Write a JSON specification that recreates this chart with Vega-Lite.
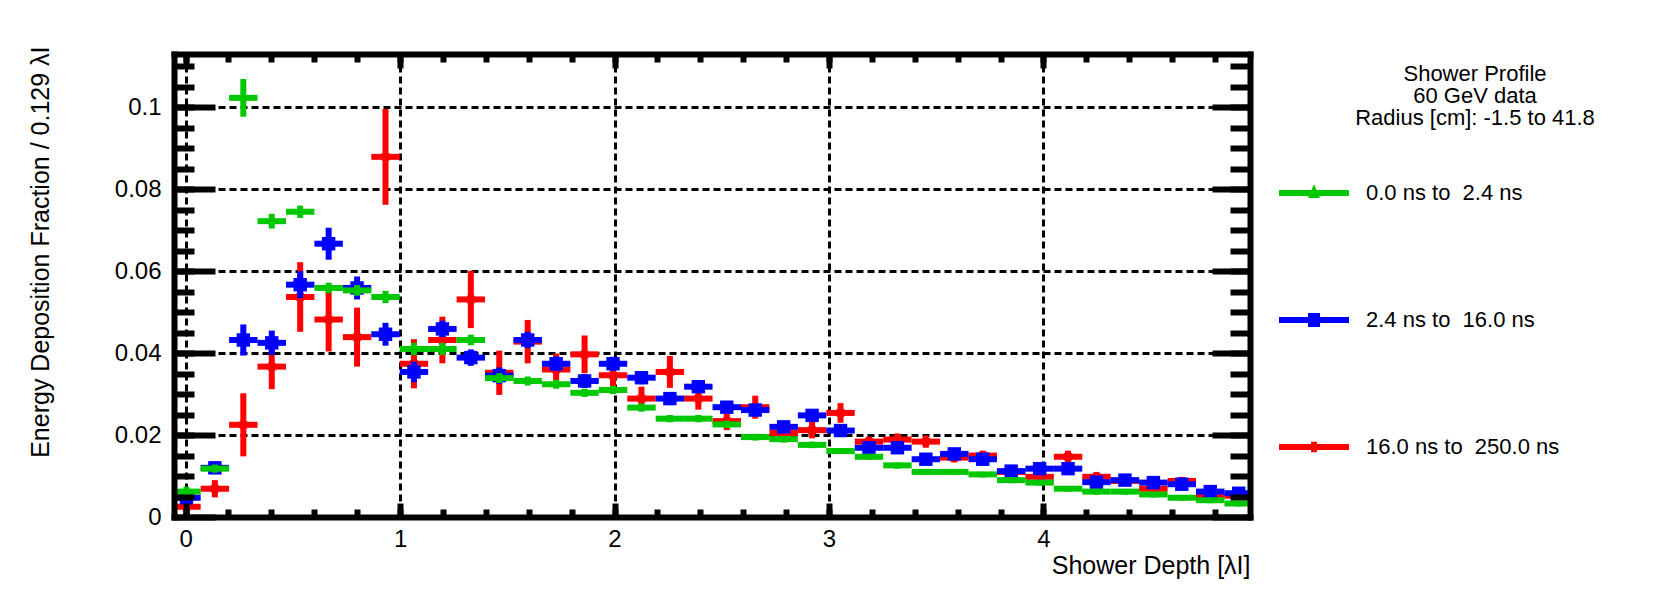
{
"$schema": "https://vega.github.io/schema/vega-lite/v6.json",
"width": 1076, "height": 463,
"autosize": {"type": "none"},
"padding": {"left": 174, "top": 54, "right": 411, "bottom": 76},
"background": "white",
"title": {"text": ["Shower Profile", "60 GeV data", "Radius [cm]: -1.5 to 41.8"], "anchor": "start", "frame": "group", "align": "center", "baseline": "top", "dx": 1301, "dy": 84, "offset": 0, "fontSize": 22, "fontWeight": "normal", "font": "Liberation Sans", "color": "black", "lineHeight": 22},
"config": {"font": "Liberation Sans", "view": {"stroke": null}, "axis": {"labelOverlap": false, "labelFlush": false}},
"data": {"values": [
{"s":"0.0 ns to\u00a0 2.4 ns","x":0.004,"xlo":-0.0623,"xhi":0.0703,"y":0.0062,"ylo":0.0050,"yhi":0.0074},
{"s":"0.0 ns to\u00a0 2.4 ns","x":0.1366,"xlo":0.0703,"xhi":0.2029,"y":0.0118,"ylo":0.0108,"yhi":0.0128},
{"s":"0.0 ns to\u00a0 2.4 ns","x":0.2692,"xlo":0.2029,"xhi":0.3355,"y":0.1023,"ylo":0.0977,"yhi":0.1069},
{"s":"0.0 ns to\u00a0 2.4 ns","x":0.4018,"xlo":0.3355,"xhi":0.4681,"y":0.0722,"ylo":0.0704,"yhi":0.0740},
{"s":"0.0 ns to\u00a0 2.4 ns","x":0.5344,"xlo":0.4681,"xhi":0.6007,"y":0.0745,"ylo":0.0730,"yhi":0.0760},
{"s":"0.0 ns to\u00a0 2.4 ns","x":0.667,"xlo":0.6007,"xhi":0.7333,"y":0.0559,"ylo":0.0546,"yhi":0.0572},
{"s":"0.0 ns to\u00a0 2.4 ns","x":0.7996,"xlo":0.7333,"xhi":0.8659,"y":0.0553,"ylo":0.0540,"yhi":0.0566},
{"s":"0.0 ns to\u00a0 2.4 ns","x":0.9322,"xlo":0.8659,"xhi":0.9985,"y":0.0537,"ylo":0.0522,"yhi":0.0552},
{"s":"0.0 ns to\u00a0 2.4 ns","x":1.0648,"xlo":0.9985,"xhi":1.1311,"y":0.0410,"ylo":0.0395,"yhi":0.0425},
{"s":"0.0 ns to\u00a0 2.4 ns","x":1.1974,"xlo":1.1311,"xhi":1.2637,"y":0.0410,"ylo":0.0395,"yhi":0.0425},
{"s":"0.0 ns to\u00a0 2.4 ns","x":1.33,"xlo":1.2637,"xhi":1.3963,"y":0.0432,"ylo":0.0419,"yhi":0.0445},
{"s":"0.0 ns to\u00a0 2.4 ns","x":1.4626,"xlo":1.3963,"xhi":1.5289,"y":0.0339,"ylo":0.0327,"yhi":0.0351},
{"s":"0.0 ns to\u00a0 2.4 ns","x":1.5952,"xlo":1.5289,"xhi":1.6615,"y":0.0332,"ylo":0.0321,"yhi":0.0343},
{"s":"0.0 ns to\u00a0 2.4 ns","x":1.7278,"xlo":1.6615,"xhi":1.7941,"y":0.0324,"ylo":0.0313,"yhi":0.0335},
{"s":"0.0 ns to\u00a0 2.4 ns","x":1.8604,"xlo":1.7941,"xhi":1.9267,"y":0.0303,"ylo":0.0293,"yhi":0.0313},
{"s":"0.0 ns to\u00a0 2.4 ns","x":1.993,"xlo":1.9267,"xhi":2.0593,"y":0.0310,"ylo":0.0300,"yhi":0.0320},
{"s":"0.0 ns to\u00a0 2.4 ns","x":2.1256,"xlo":2.0593,"xhi":2.1919,"y":0.0267,"ylo":0.0257,"yhi":0.0277},
{"s":"0.0 ns to\u00a0 2.4 ns","x":2.2582,"xlo":2.1919,"xhi":2.3245,"y":0.0240,"ylo":0.0231,"yhi":0.0249},
{"s":"0.0 ns to\u00a0 2.4 ns","x":2.3908,"xlo":2.3245,"xhi":2.4571,"y":0.0240,"ylo":0.0231,"yhi":0.0249},
{"s":"0.0 ns to\u00a0 2.4 ns","x":2.5234,"xlo":2.4571,"xhi":2.5897,"y":0.0226,"ylo":0.0217,"yhi":0.0235},
{"s":"0.0 ns to\u00a0 2.4 ns","x":2.656,"xlo":2.5897,"xhi":2.7223,"y":0.0195,"ylo":0.0187,"yhi":0.0203},
{"s":"0.0 ns to\u00a0 2.4 ns","x":2.7886,"xlo":2.7223,"xhi":2.8549,"y":0.0190,"ylo":0.0182,"yhi":0.0198},
{"s":"0.0 ns to\u00a0 2.4 ns","x":2.9212,"xlo":2.8549,"xhi":2.9875,"y":0.0176,"ylo":0.0168,"yhi":0.0184},
{"s":"0.0 ns to\u00a0 2.4 ns","x":3.0538,"xlo":2.9875,"xhi":3.1201,"y":0.0161,"ylo":0.0154,"yhi":0.0168},
{"s":"0.0 ns to\u00a0 2.4 ns","x":3.1864,"xlo":3.1201,"xhi":3.2527,"y":0.0147,"ylo":0.0140,"yhi":0.0154},
{"s":"0.0 ns to\u00a0 2.4 ns","x":3.319,"xlo":3.2527,"xhi":3.3853,"y":0.0126,"ylo":0.0119,"yhi":0.0133},
{"s":"0.0 ns to\u00a0 2.4 ns","x":3.4516,"xlo":3.3853,"xhi":3.5179,"y":0.0110,"ylo":0.0104,"yhi":0.0116},
{"s":"0.0 ns to\u00a0 2.4 ns","x":3.5842,"xlo":3.5179,"xhi":3.6505,"y":0.0110,"ylo":0.0104,"yhi":0.0116},
{"s":"0.0 ns to\u00a0 2.4 ns","x":3.7168,"xlo":3.6505,"xhi":3.7831,"y":0.0104,"ylo":0.0098,"yhi":0.0110},
{"s":"0.0 ns to\u00a0 2.4 ns","x":3.8494,"xlo":3.7831,"xhi":3.9157,"y":0.0090,"ylo":0.0084,"yhi":0.0096},
{"s":"0.0 ns to\u00a0 2.4 ns","x":3.982,"xlo":3.9157,"xhi":4.0483,"y":0.0084,"ylo":0.0079,"yhi":0.0089},
{"s":"0.0 ns to\u00a0 2.4 ns","x":4.1146,"xlo":4.0483,"xhi":4.1809,"y":0.0069,"ylo":0.0064,"yhi":0.0074},
{"s":"0.0 ns to\u00a0 2.4 ns","x":4.2472,"xlo":4.1809,"xhi":4.3135,"y":0.0062,"ylo":0.0057,"yhi":0.0067},
{"s":"0.0 ns to\u00a0 2.4 ns","x":4.3798,"xlo":4.3135,"xhi":4.4461,"y":0.0062,"ylo":0.0057,"yhi":0.0067},
{"s":"0.0 ns to\u00a0 2.4 ns","x":4.5124,"xlo":4.4461,"xhi":4.5787,"y":0.0055,"ylo":0.0050,"yhi":0.0060},
{"s":"0.0 ns to\u00a0 2.4 ns","x":4.645,"xlo":4.5787,"xhi":4.7113,"y":0.0047,"ylo":0.0043,"yhi":0.0051},
{"s":"0.0 ns to\u00a0 2.4 ns","x":4.7776,"xlo":4.7113,"xhi":4.8439,"y":0.0041,"ylo":0.0037,"yhi":0.0045},
{"s":"0.0 ns to\u00a0 2.4 ns","x":4.9102,"xlo":4.8439,"xhi":4.9765,"y":0.0033,"ylo":0.0029,"yhi":0.0037},
{"s":"2.4 ns to\u00a0 16.0 ns","x":0.004,"xlo":-0.0623,"xhi":0.0703,"y":0.0047,"ylo":0.0032,"yhi":0.0062},
{"s":"2.4 ns to\u00a0 16.0 ns","x":0.1366,"xlo":0.0703,"xhi":0.2029,"y":0.0120,"ylo":0.0105,"yhi":0.0135},
{"s":"2.4 ns to\u00a0 16.0 ns","x":0.2692,"xlo":0.2029,"xhi":0.3355,"y":0.0432,"ylo":0.0394,"yhi":0.0470},
{"s":"2.4 ns to\u00a0 16.0 ns","x":0.4018,"xlo":0.3355,"xhi":0.4681,"y":0.0425,"ylo":0.0395,"yhi":0.0455},
{"s":"2.4 ns to\u00a0 16.0 ns","x":0.5344,"xlo":0.4681,"xhi":0.6007,"y":0.0567,"ylo":0.0534,"yhi":0.0600},
{"s":"2.4 ns to\u00a0 16.0 ns","x":0.667,"xlo":0.6007,"xhi":0.7333,"y":0.0667,"ylo":0.0628,"yhi":0.0706},
{"s":"2.4 ns to\u00a0 16.0 ns","x":0.7996,"xlo":0.7333,"xhi":0.8659,"y":0.0559,"ylo":0.0531,"yhi":0.0587},
{"s":"2.4 ns to\u00a0 16.0 ns","x":0.9322,"xlo":0.8659,"xhi":0.9985,"y":0.0446,"ylo":0.0418,"yhi":0.0474},
{"s":"2.4 ns to\u00a0 16.0 ns","x":1.0648,"xlo":0.9985,"xhi":1.1311,"y":0.0354,"ylo":0.0329,"yhi":0.0379},
{"s":"2.4 ns to\u00a0 16.0 ns","x":1.1974,"xlo":1.1311,"xhi":1.2637,"y":0.0459,"ylo":0.0439,"yhi":0.0479},
{"s":"2.4 ns to\u00a0 16.0 ns","x":1.33,"xlo":1.2637,"xhi":1.3963,"y":0.0389,"ylo":0.0369,"yhi":0.0409},
{"s":"2.4 ns to\u00a0 16.0 ns","x":1.4626,"xlo":1.3963,"xhi":1.5289,"y":0.0345,"ylo":0.0325,"yhi":0.0365},
{"s":"2.4 ns to\u00a0 16.0 ns","x":1.5952,"xlo":1.5289,"xhi":1.6615,"y":0.0432,"ylo":0.0412,"yhi":0.0452},
{"s":"2.4 ns to\u00a0 16.0 ns","x":1.7278,"xlo":1.6615,"xhi":1.7941,"y":0.0374,"ylo":0.0356,"yhi":0.0392},
{"s":"2.4 ns to\u00a0 16.0 ns","x":1.8604,"xlo":1.7941,"xhi":1.9267,"y":0.0332,"ylo":0.0315,"yhi":0.0349},
{"s":"2.4 ns to\u00a0 16.0 ns","x":1.993,"xlo":1.9267,"xhi":2.0593,"y":0.0374,"ylo":0.0357,"yhi":0.0391},
{"s":"2.4 ns to\u00a0 16.0 ns","x":2.1256,"xlo":2.0593,"xhi":2.1919,"y":0.0340,"ylo":0.0324,"yhi":0.0356},
{"s":"2.4 ns to\u00a0 16.0 ns","x":2.2582,"xlo":2.1919,"xhi":2.3245,"y":0.0289,"ylo":0.0273,"yhi":0.0305},
{"s":"2.4 ns to\u00a0 16.0 ns","x":2.3908,"xlo":2.3245,"xhi":2.4571,"y":0.0318,"ylo":0.0303,"yhi":0.0333},
{"s":"2.4 ns to\u00a0 16.0 ns","x":2.5234,"xlo":2.4571,"xhi":2.5897,"y":0.0268,"ylo":0.0254,"yhi":0.0282},
{"s":"2.4 ns to\u00a0 16.0 ns","x":2.656,"xlo":2.5897,"xhi":2.7223,"y":0.0261,"ylo":0.0247,"yhi":0.0275},
{"s":"2.4 ns to\u00a0 16.0 ns","x":2.7886,"xlo":2.7223,"xhi":2.8549,"y":0.0220,"ylo":0.0207,"yhi":0.0233},
{"s":"2.4 ns to\u00a0 16.0 ns","x":2.9212,"xlo":2.8549,"xhi":2.9875,"y":0.0248,"ylo":0.0235,"yhi":0.0261},
{"s":"2.4 ns to\u00a0 16.0 ns","x":3.0538,"xlo":2.9875,"xhi":3.1201,"y":0.0211,"ylo":0.0199,"yhi":0.0223},
{"s":"2.4 ns to\u00a0 16.0 ns","x":3.1864,"xlo":3.1201,"xhi":3.2527,"y":0.0169,"ylo":0.0158,"yhi":0.0180},
{"s":"2.4 ns to\u00a0 16.0 ns","x":3.319,"xlo":3.2527,"xhi":3.3853,"y":0.0169,"ylo":0.0158,"yhi":0.0180},
{"s":"2.4 ns to\u00a0 16.0 ns","x":3.4516,"xlo":3.3853,"xhi":3.5179,"y":0.0141,"ylo":0.0131,"yhi":0.0151},
{"s":"2.4 ns to\u00a0 16.0 ns","x":3.5842,"xlo":3.5179,"xhi":3.6505,"y":0.0154,"ylo":0.0144,"yhi":0.0164},
{"s":"2.4 ns to\u00a0 16.0 ns","x":3.7168,"xlo":3.6505,"xhi":3.7831,"y":0.0141,"ylo":0.0131,"yhi":0.0151},
{"s":"2.4 ns to\u00a0 16.0 ns","x":3.8494,"xlo":3.7831,"xhi":3.9157,"y":0.0112,"ylo":0.0103,"yhi":0.0121},
{"s":"2.4 ns to\u00a0 16.0 ns","x":3.982,"xlo":3.9157,"xhi":4.0483,"y":0.0118,"ylo":0.0109,"yhi":0.0127},
{"s":"2.4 ns to\u00a0 16.0 ns","x":4.1146,"xlo":4.0483,"xhi":4.1809,"y":0.0118,"ylo":0.0109,"yhi":0.0127},
{"s":"2.4 ns to\u00a0 16.0 ns","x":4.2472,"xlo":4.1809,"xhi":4.3135,"y":0.0085,"ylo":0.0077,"yhi":0.0093},
{"s":"2.4 ns to\u00a0 16.0 ns","x":4.3798,"xlo":4.3135,"xhi":4.4461,"y":0.0090,"ylo":0.0082,"yhi":0.0098},
{"s":"2.4 ns to\u00a0 16.0 ns","x":4.5124,"xlo":4.4461,"xhi":4.5787,"y":0.0084,"ylo":0.0076,"yhi":0.0092},
{"s":"2.4 ns to\u00a0 16.0 ns","x":4.645,"xlo":4.5787,"xhi":4.7113,"y":0.0080,"ylo":0.0072,"yhi":0.0088},
{"s":"2.4 ns to\u00a0 16.0 ns","x":4.7776,"xlo":4.7113,"xhi":4.8439,"y":0.0062,"ylo":0.0055,"yhi":0.0069},
{"s":"2.4 ns to\u00a0 16.0 ns","x":4.9102,"xlo":4.8439,"xhi":4.9765,"y":0.0058,"ylo":0.0051,"yhi":0.0065},
{"s":"16.0 ns to\u00a0 250.0 ns","x":0.004,"xlo":-0.0623,"xhi":0.0703,"y":0.0025,"ylo":0.0005,"yhi":0.0045},
{"s":"16.0 ns to\u00a0 250.0 ns","x":0.1366,"xlo":0.0703,"xhi":0.2029,"y":0.0069,"ylo":0.0048,"yhi":0.0090},
{"s":"16.0 ns to\u00a0 250.0 ns","x":0.2692,"xlo":0.2029,"xhi":0.3355,"y":0.0225,"ylo":0.0148,"yhi":0.0302},
{"s":"16.0 ns to\u00a0 250.0 ns","x":0.4018,"xlo":0.3355,"xhi":0.4681,"y":0.0367,"ylo":0.0312,"yhi":0.0422},
{"s":"16.0 ns to\u00a0 250.0 ns","x":0.5344,"xlo":0.4681,"xhi":0.6007,"y":0.0537,"ylo":0.0452,"yhi":0.0622},
{"s":"16.0 ns to\u00a0 250.0 ns","x":0.667,"xlo":0.6007,"xhi":0.7333,"y":0.0482,"ylo":0.0404,"yhi":0.0560},
{"s":"16.0 ns to\u00a0 250.0 ns","x":0.7996,"xlo":0.7333,"xhi":0.8659,"y":0.0439,"ylo":0.0367,"yhi":0.0511},
{"s":"16.0 ns to\u00a0 250.0 ns","x":0.9322,"xlo":0.8659,"xhi":0.9985,"y":0.0879,"ylo":0.0762,"yhi":0.0996},
{"s":"16.0 ns to\u00a0 250.0 ns","x":1.0648,"xlo":0.9985,"xhi":1.1311,"y":0.0374,"ylo":0.0314,"yhi":0.0434},
{"s":"16.0 ns to\u00a0 250.0 ns","x":1.1974,"xlo":1.1311,"xhi":1.2637,"y":0.0432,"ylo":0.0375,"yhi":0.0489},
{"s":"16.0 ns to\u00a0 250.0 ns","x":1.33,"xlo":1.2637,"xhi":1.3963,"y":0.0531,"ylo":0.0461,"yhi":0.0601},
{"s":"16.0 ns to\u00a0 250.0 ns","x":1.4626,"xlo":1.3963,"xhi":1.5289,"y":0.0352,"ylo":0.0298,"yhi":0.0406},
{"s":"16.0 ns to\u00a0 250.0 ns","x":1.5952,"xlo":1.5289,"xhi":1.6615,"y":0.0428,"ylo":0.0375,"yhi":0.0481},
{"s":"16.0 ns to\u00a0 250.0 ns","x":1.7278,"xlo":1.6615,"xhi":1.7941,"y":0.0360,"ylo":0.0321,"yhi":0.0399},
{"s":"16.0 ns to\u00a0 250.0 ns","x":1.8604,"xlo":1.7941,"xhi":1.9267,"y":0.0397,"ylo":0.0351,"yhi":0.0443},
{"s":"16.0 ns to\u00a0 250.0 ns","x":1.993,"xlo":1.9267,"xhi":2.0593,"y":0.0346,"ylo":0.0316,"yhi":0.0376},
{"s":"16.0 ns to\u00a0 250.0 ns","x":2.1256,"xlo":2.0593,"xhi":2.1919,"y":0.0289,"ylo":0.0260,"yhi":0.0318},
{"s":"16.0 ns to\u00a0 250.0 ns","x":2.2582,"xlo":2.1919,"xhi":2.3245,"y":0.0354,"ylo":0.0315,"yhi":0.0393},
{"s":"16.0 ns to\u00a0 250.0 ns","x":2.3908,"xlo":2.3245,"xhi":2.4571,"y":0.0289,"ylo":0.0262,"yhi":0.0316},
{"s":"16.0 ns to\u00a0 250.0 ns","x":2.5234,"xlo":2.4571,"xhi":2.5897,"y":0.0234,"ylo":0.0212,"yhi":0.0256},
{"s":"16.0 ns to\u00a0 250.0 ns","x":2.656,"xlo":2.5897,"xhi":2.7223,"y":0.0268,"ylo":0.0240,"yhi":0.0296},
{"s":"16.0 ns to\u00a0 250.0 ns","x":2.7886,"xlo":2.7223,"xhi":2.8549,"y":0.0205,"ylo":0.0183,"yhi":0.0227},
{"s":"16.0 ns to\u00a0 250.0 ns","x":2.9212,"xlo":2.8549,"xhi":2.9875,"y":0.0212,"ylo":0.0192,"yhi":0.0232},
{"s":"16.0 ns to\u00a0 250.0 ns","x":3.0538,"xlo":2.9875,"xhi":3.1201,"y":0.0254,"ylo":0.0230,"yhi":0.0278},
{"s":"16.0 ns to\u00a0 250.0 ns","x":3.1864,"xlo":3.1201,"xhi":3.2527,"y":0.0184,"ylo":0.0172,"yhi":0.0196},
{"s":"16.0 ns to\u00a0 250.0 ns","x":3.319,"xlo":3.2527,"xhi":3.3853,"y":0.0189,"ylo":0.0174,"yhi":0.0204},
{"s":"16.0 ns to\u00a0 250.0 ns","x":3.4516,"xlo":3.3853,"xhi":3.5179,"y":0.0184,"ylo":0.0169,"yhi":0.0199},
{"s":"16.0 ns to\u00a0 250.0 ns","x":3.5842,"xlo":3.5179,"xhi":3.6505,"y":0.0145,"ylo":0.0133,"yhi":0.0157},
{"s":"16.0 ns to\u00a0 250.0 ns","x":3.7168,"xlo":3.6505,"xhi":3.7831,"y":0.0150,"ylo":0.0138,"yhi":0.0162},
{"s":"16.0 ns to\u00a0 250.0 ns","x":3.8494,"xlo":3.7831,"xhi":3.9157,"y":0.0110,"ylo":0.0098,"yhi":0.0122},
{"s":"16.0 ns to\u00a0 250.0 ns","x":3.982,"xlo":3.9157,"xhi":4.0483,"y":0.0098,"ylo":0.0088,"yhi":0.0108},
{"s":"16.0 ns to\u00a0 250.0 ns","x":4.1146,"xlo":4.0483,"xhi":4.1809,"y":0.0147,"ylo":0.0132,"yhi":0.0162},
{"s":"16.0 ns to\u00a0 250.0 ns","x":4.2472,"xlo":4.1809,"xhi":4.3135,"y":0.0098,"ylo":0.0086,"yhi":0.0110},
{"s":"16.0 ns to\u00a0 250.0 ns","x":4.3798,"xlo":4.3135,"xhi":4.4461,"y":0.0088,"ylo":0.0078,"yhi":0.0098},
{"s":"16.0 ns to\u00a0 250.0 ns","x":4.5124,"xlo":4.4461,"xhi":4.5787,"y":0.0069,"ylo":0.0059,"yhi":0.0079},
{"s":"16.0 ns to\u00a0 250.0 ns","x":4.645,"xlo":4.5787,"xhi":4.7113,"y":0.0088,"ylo":0.0078,"yhi":0.0098},
{"s":"16.0 ns to\u00a0 250.0 ns","x":4.7776,"xlo":4.7113,"xhi":4.8439,"y":0.0051,"ylo":0.0042,"yhi":0.0060},
{"s":"16.0 ns to\u00a0 250.0 ns","x":4.9102,"xlo":4.8439,"xhi":4.9765,"y":0.0052,"ylo":0.0044,"yhi":0.0060}
]},
"resolve": {"axis": {"x": "independent", "y": "independent"}},
"layer": [
{"transform": [{"filter": {"field": "s", "equal": "16.0 ns to\u00a0 250.0 ns"}}],
 "mark": {"type": "rule", "color": "#ff0000", "strokeWidth": 6, "clip": true},
 "encoding": {
  "x": {"field": "xlo", "type": "quantitative", "scale": {"domain": [-0.054, 4.963], "nice": false, "zero": false},
        "axis": {"orient": "bottom", "values": [0, 1, 2, 3, 4], "format": "d", "ticks": false, "grid": false, "domain": true, "domainColor": "black", "domainWidth": 6, "domainCap": "square", "labelFontSize": 24, "labelColor": "black", "labelPadding": 10, "labelFont": "Liberation Sans", "title": "Shower Depth [λI]", "titleAnchor": "end", "titleFontSize": 25, "titleFontWeight": "normal", "titleColor": "black", "titleFont": "Liberation Sans", "titlePadding": 2, "zindex": 1}},
  "x2": {"field": "xhi"},
  "y": {"field": "y", "type": "quantitative", "scale": {"domain": [0, 0.113], "nice": false, "zero": false},
        "axis": {"orient": "left", "values": [0, 0.02, 0.04, 0.06, 0.08, 0.1], "format": ".2~f", "ticks": false, "grid": false, "domain": true, "domainColor": "black", "domainWidth": 6, "domainCap": "square", "labelFontSize": 24, "labelColor": "black", "labelPadding": 13, "labelFont": "Liberation Sans", "title": "Energy Deposition Fraction / 0.129 λI", "titleAnchor": "end", "titleY": -8, "titleFontSize": 25, "titleFontWeight": "normal", "titleColor": "black", "titleFont": "Liberation Sans", "titlePadding": 61, "zindex": 1}}
 }},
{"transform": [{"filter": {"field": "s", "equal": "16.0 ns to\u00a0 250.0 ns"}}],
 "mark": {"type": "rule", "color": "#ff0000", "strokeWidth": 6, "clip": true},
 "encoding": {
  "x": {"field": "x", "type": "quantitative",
        "axis": {"orient": "bottom", "values": [0, 1, 2, 3, 4], "grid": true, "gridColor": "black", "gridDash": [7, 4], "gridWidth": 3, "gridOpacity": 1, "ticks": false, "labels": false, "domain": false, "title": null, "zindex": 0}},
  "y": {"field": "ylo", "type": "quantitative",
        "axis": {"orient": "left", "values": [0.02, 0.04, 0.06, 0.08, 0.1], "grid": true, "gridColor": "black", "gridDash": [7, 4], "gridWidth": 3, "gridOpacity": 1, "ticks": false, "labels": false, "domain": false, "title": null, "zindex": 0}},
  "y2": {"field": "yhi"}
 }},
{"transform": [{"filter": {"field": "s", "equal": "16.0 ns to\u00a0 250.0 ns"}}],
 "mark": {"type": "point", "shape": "square", "filled": true, "color": "#ff0000", "opacity": 1, "size": 60, "strokeWidth": 0, "clip": true},
 "encoding": {
  "x": {"field": "x", "type": "quantitative",
        "axis": {"orient": "bottom", "values": [0, 1, 2, 3, 4], "ticks": true, "tickSize": -14, "tickWidth": 6, "tickColor": "black", "labels": false, "domain": false, "grid": false, "title": null, "zindex": 1}},
  "y": {"field": "y", "type": "quantitative",
        "axis": {"orient": "left", "values": [0, 0.02, 0.04, 0.06, 0.08, 0.1], "ticks": true, "tickSize": -41, "tickWidth": 6, "tickColor": "black", "labels": false, "domain": false, "grid": false, "title": null, "zindex": 1}}
 }},
{"transform": [{"filter": {"field": "s", "equal": "2.4 ns to\u00a0 16.0 ns"}}],
 "mark": {"type": "rule", "color": "#0000ff", "strokeWidth": 6, "clip": true},
 "encoding": {
  "x": {"field": "xlo", "type": "quantitative",
        "axis": {"orient": "bottom", "values": [0, 0.2, 0.4, 0.6, 0.8, 1, 1.2, 1.4, 1.6, 1.8, 2, 2.2, 2.4, 2.6, 2.8, 3, 3.2, 3.4, 3.6, 3.8, 4, 4.2, 4.4, 4.6, 4.8], "ticks": true, "tickSize": -8, "tickWidth": 6, "tickColor": "black", "labels": false, "domain": false, "grid": false, "title": null, "zindex": 1}},
  "x2": {"field": "xhi"},
  "y": {"field": "y", "type": "quantitative",
        "axis": {"orient": "left", "values": [0.005, 0.01, 0.015, 0.02, 0.025, 0.03, 0.035, 0.04, 0.045, 0.05, 0.055, 0.06, 0.065, 0.07, 0.075, 0.08, 0.085, 0.09, 0.095, 0.1, 0.105, 0.11], "ticks": true, "tickSize": -20, "tickWidth": 6, "tickColor": "black", "labels": false, "domain": false, "grid": false, "title": null, "zindex": 1}}
 }},
{"transform": [{"filter": {"field": "s", "equal": "2.4 ns to\u00a0 16.0 ns"}}],
 "mark": {"type": "rule", "color": "#0000ff", "strokeWidth": 6, "clip": true},
 "encoding": {
  "x": {"field": "x", "type": "quantitative",
        "axis": {"orient": "top", "values": [0, 1, 2, 3, 4], "ticks": true, "tickSize": -14, "tickWidth": 6, "tickColor": "black", "labels": false, "domain": true, "domainColor": "black", "domainWidth": 6, "domainCap": "square", "grid": false, "title": null, "zindex": 1}},
  "y": {"field": "ylo", "type": "quantitative",
        "axis": {"orient": "right", "values": [0, 0.02, 0.04, 0.06, 0.08, 0.1], "ticks": true, "tickSize": -38, "tickWidth": 6, "tickColor": "black", "labels": false, "domain": true, "domainColor": "black", "domainWidth": 6, "domainCap": "square", "grid": false, "title": null, "zindex": 1}},
  "y2": {"field": "yhi"}
 }},
{"transform": [{"filter": {"field": "s", "equal": "2.4 ns to\u00a0 16.0 ns"}}],
 "mark": {"type": "point", "shape": "square", "filled": true, "color": "#0000ff", "opacity": 1, "size": 180, "strokeWidth": 0, "clip": true},
 "encoding": {
  "x": {"field": "x", "type": "quantitative",
        "axis": {"orient": "top", "values": [0, 0.2, 0.4, 0.6, 0.8, 1, 1.2, 1.4, 1.6, 1.8, 2, 2.2, 2.4, 2.6, 2.8, 3, 3.2, 3.4, 3.6, 3.8, 4, 4.2, 4.4, 4.6, 4.8], "ticks": true, "tickSize": -8, "tickWidth": 6, "tickColor": "black", "labels": false, "domain": false, "grid": false, "title": null, "zindex": 1}},
  "y": {"field": "y", "type": "quantitative",
        "axis": {"orient": "right", "values": [0.005, 0.01, 0.015, 0.02, 0.025, 0.03, 0.035, 0.04, 0.045, 0.05, 0.055, 0.06, 0.065, 0.07, 0.075, 0.08, 0.085, 0.09, 0.095, 0.1, 0.105, 0.11], "ticks": true, "tickSize": -20, "tickWidth": 6, "tickColor": "black", "labels": false, "domain": false, "grid": false, "title": null, "zindex": 1}}
 }},
{"transform": [{"filter": {"field": "s", "equal": "0.0 ns to\u00a0 2.4 ns"}}],
 "mark": {"type": "rule", "color": "#00c800", "strokeWidth": 6, "clip": true},
 "encoding": {
  "x": {"field": "xlo", "type": "quantitative", "axis": null},
  "x2": {"field": "xhi"},
  "y": {"field": "y", "type": "quantitative", "axis": null}
 }},
{"transform": [{"filter": {"field": "s", "equal": "0.0 ns to\u00a0 2.4 ns"}}],
 "mark": {"type": "rule", "color": "#00c800", "strokeWidth": 6, "clip": true},
 "encoding": {
  "x": {"field": "x", "type": "quantitative", "axis": null},
  "y": {"field": "ylo", "type": "quantitative", "axis": null},
  "y2": {"field": "yhi"}
 }},
{"transform": [{"filter": {"field": "s", "equal": "0.0 ns to\u00a0 2.4 ns"}}],
 "mark": {"type": "point", "shape": "triangle-up", "filled": true, "color": "#00c800", "opacity": 1, "size": 50, "strokeWidth": 0, "clip": true},
 "encoding": {
  "x": {"field": "x", "type": "quantitative", "axis": null},
  "y": {"field": "y", "type": "quantitative", "axis": null}
 }},
{"mark": {"type": "point", "filled": true, "opacity": 0, "size": 10, "strokeWidth": 0, "clip": true},
 "encoding": {
  "x": {"field": "x", "type": "quantitative", "axis": null},
  "y": {"field": "y", "type": "quantitative", "axis": null},
  "color": {"field": "s", "type": "nominal",
            "scale": {"domain": ["0.0 ns to\u00a0 2.4 ns", "2.4 ns to\u00a0 16.0 ns", "16.0 ns to\u00a0 250.0 ns"], "range": ["#00c800", "#0000ff", "#ff0000"]},
            "legend": {"orient": "none", "legendX": 1105, "legendY": 104, "title": null, "symbolSize": 4900, "symbolStrokeWidth": 0, "symbolOpacity": 1, "labelFontSize": 22, "labelFont": "Liberation Sans", "labelColor": "black", "labelOffset": 17, "rowPadding": 81, "labelLimit": 400}},
  "shape": {"field": "s", "type": "nominal",
            "scale": {"domain": ["0.0 ns to\u00a0 2.4 ns", "2.4 ns to\u00a0 16.0 ns", "16.0 ns to\u00a0 250.0 ns"], "range": ["M-1,-0.086H1V0.086H-1Z M0,-0.26L0.17,0.14H-0.17Z", "M-1,-0.086H1V0.086H-1Z M-0.17,-0.2H0.17V0.2H-0.17Z", "M-1,-0.086H1V0.086H-1Z M-0.085,-0.15H0.085V0.15H-0.085Z"]},
            "legend": {"orient": "none", "legendX": 1105, "legendY": 104, "title": null, "symbolSize": 4900, "symbolStrokeWidth": 0, "symbolOpacity": 1, "labelFontSize": 22, "labelFont": "Liberation Sans", "labelColor": "black", "labelOffset": 17, "rowPadding": 81, "labelLimit": 400}}
 }}
]
}
